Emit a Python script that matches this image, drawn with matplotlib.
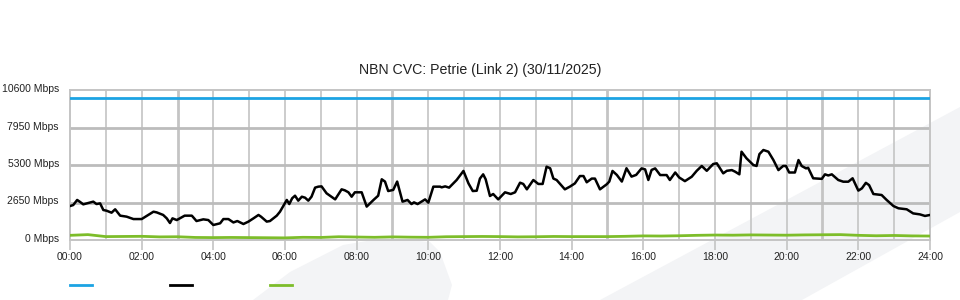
import numpy as np
import matplotlib.pyplot as plt
import matplotlib.transforms as mtransforms
from matplotlib.patches import Polygon
from matplotlib.lines import Line2D

plt.rcParams['font.family'] = ['Liberation Sans', 'DejaVu Sans']

title = 'NBN CVC: Petrie (Link 2) (30/11/2025)'
capacity = 10000  # Mbps

# black series (hours, Mbps)
hours = [0.0, 0.09, 0.2, 0.27, 0.37, 0.47, 0.65, 0.74, 0.84, 0.93, 1.02, 1.16, 1.26,
         1.4, 1.58, 1.77, 2.0, 2.14, 2.33, 2.42, 2.6, 2.7, 2.79, 2.86, 2.98, 3.2, 3.4,
         3.53, 3.72, 3.86, 4.0, 4.19, 4.28, 4.42, 4.56, 4.67, 4.84, 4.98, 5.12, 5.26,
         5.33, 5.49, 5.58, 5.77, 5.86, 6.05, 6.12, 6.2, 6.28, 6.37, 6.47, 6.56, 6.65,
         6.74, 6.84, 6.93, 7.02, 7.16, 7.4, 7.58, 7.67, 7.77, 7.86, 7.95, 8.14, 8.28,
         8.47, 8.6, 8.7, 8.79, 8.88, 9.02, 9.13, 9.28, 9.42, 9.53, 9.6, 9.7, 9.91,
         10.0, 10.14, 10.33, 10.37, 10.47, 10.58, 10.79, 10.98, 11.12, 11.24, 11.35,
         11.44, 11.53, 11.6, 11.72, 11.81, 11.95, 12.14, 12.3, 12.42, 12.56, 12.65,
         12.75, 12.93, 13.07, 13.19, 13.3, 13.4, 13.49, 13.58, 13.81, 13.95, 14.09,
         14.23, 14.33, 14.42, 14.56, 14.65, 14.79, 14.98, 15.05, 15.14, 15.26, 15.4,
         15.53, 15.67, 15.8, 15.95, 16.05, 16.14, 16.23, 16.33, 16.47, 16.65, 16.74,
         16.89, 17.0, 17.16, 17.35, 17.49, 17.63, 17.77, 17.95, 18.05, 18.23, 18.33,
         18.47, 18.56, 18.68, 18.74, 18.88, 19.07, 19.16, 19.24, 19.35, 19.49, 19.63,
         19.77, 19.9, 19.98, 20.07, 20.23, 20.33, 20.42, 20.54, 20.6, 20.74, 20.98,
         21.07, 21.16, 21.26, 21.44, 21.58, 21.72, 21.84, 22.0, 22.1, 22.21, 22.3,
         22.42, 22.65, 22.79, 22.98, 23.12, 23.35, 23.53, 23.72, 23.86, 24.0]
traffic = [2400, 2470, 2830, 2710, 2520, 2590, 2710, 2540, 2590, 2120, 2070, 1930, 2170,
           1720, 1650, 1480, 1480, 1700, 2000, 1950, 1770, 1530, 1200, 1530, 1410, 1720,
           1720, 1340, 1460, 1410, 1060, 1180, 1480, 1480, 1240, 1340, 1130, 1300, 1530,
           1770, 1650, 1300, 1340, 1720, 2000, 2830, 2540, 2950, 3130, 2780, 3060, 2990,
           2780, 3060, 3700, 3770, 3790, 3300, 2870, 3580, 3510, 3370, 3060, 3370, 3370,
           2360, 2830, 3130, 4290, 4130, 3460, 3540, 4130, 2710, 2830, 2540, 2660, 2540,
           2870, 2640, 3770, 3770, 3720, 3790, 3700, 4240, 4880, 4000, 3460, 3480, 4340,
           4640, 4290, 3110, 3250, 2870, 3370, 3250, 3370, 4050, 3960, 3580, 4240, 3960,
           3960, 5180, 5070, 4340, 4240, 3580, 3770, 4000, 4520, 4520, 4080, 4340, 4340,
           3580, 3940, 4130, 4880, 4600, 4130, 5070, 4480, 4600, 5060, 4990, 4240, 4950,
           5060, 4590, 4590, 4240, 4770, 4420, 4160, 4470, 4890, 5230, 4890, 5370, 5420,
           4710, 4890, 4940, 4830, 4640, 6240, 5770, 5300, 5230, 6070, 6360, 6240, 5650,
           4940, 5230, 5230, 4770, 4770, 5650, 5230, 5060, 5100, 4360, 4320, 4640, 4560,
           4640, 4240, 4120, 4120, 4360, 3490, 3650, 4040, 3880, 3250, 3180, 2830, 2400,
           2240, 2170, 1880, 1810, 1700, 1770]

# green series, every 30 minutes
green_hours = list(np.arange(0, 24.01, 0.5))
green = [330, 380, 240, 250, 260, 220, 230, 180, 170, 180, 170, 160, 150, 190, 180, 230,
         210, 190, 220, 200, 190, 230, 240, 250, 240, 220, 230, 250, 240, 240, 240, 260,
         290, 280, 300, 330, 350, 340, 360, 350, 340, 360, 370, 380, 330, 300, 320, 290,
         280]

yticks = [0, 2650, 5300, 7950, 10600]
ytick_labels = [f'{v} Mbps' for v in yticks]
xticks = list(range(0, 25, 2))
xtick_labels = [f'{h:02d}:00' for h in xticks]

blue_c = '#1ca3e3'
green_c = '#7dbd2a'
grid_c = '#c4c4c4'

fig = plt.figure(figsize=(9.6, 3.0), dpi=100)
fig.patch.set_facecolor('white')

# faint watermark shapes in the background (pixel coords -> figure fraction)
def px(points):
    return [(x / 960, 1 - y / 300) for x, y in points]

fig.patches.append(Polygon(px([(600, 300), (960, 107), (960, 212), (802, 300)]),
                           closed=True, transform=fig.transFigure, facecolor='#f3f4f6',
                           edgecolor='none', zorder=-5))
fig.patches.append(Polygon(px([(253, 300), (290, 272), (343, 245), (385, 238), (430, 242),
                               (440, 252), (452, 285), (448, 300)]),
                           closed=True, transform=fig.transFigure, facecolor='#f3f4f6',
                           edgecolor='none', zorder=-5))

ax = fig.add_axes([70 / 960, 0.2, 860 / 960, 0.5])
ax.set_facecolor('none')

ax.axhline(capacity, color=blue_c, lw=2, zorder=3)
ax.plot(hours, traffic, color='black', lw=1.8, zorder=4)
ax.plot(green_hours, green, color=green_c, lw=2, zorder=3)

ax.set_xlim(0, 24)
ax.set_ylim(0, 10600)

# grid
for h in range(1, 24):
    lw = 2.0 if h % 6 == 3 else 1.2
    ax.axvline(h, color=grid_c, lw=lw, zorder=1)
for v in yticks[1:-1]:
    ax.axhline(v, color='#bcbcbc', lw=2, zorder=1)

ax.set_yticks(yticks)
ax.set_yticklabels(ytick_labels)
ax.set_xticks(xticks)
ax.set_xticklabels(xtick_labels)
ax.tick_params(axis='y', length=0, pad=8, labelsize=7.5, labelcolor='#222222')
ax.tick_params(axis='x', length=7.2, width=1.2, color=grid_c, pad=1.5, labelsize=7.5,
               labelcolor='#222222')
# y labels sit a couple of pixels above their gridline
shift = mtransforms.ScaledTranslation(0, 2 / 100, fig.dpi_scale_trans)
for lab in ax.get_yticklabels():
    lab.set_transform(lab.get_transform() + shift)
for s in ax.spines.values():
    s.set_color(grid_c)
    s.set_linewidth(1.4)

fig.text(0.5, 1 - 70 / 300, title, ha='center', va='center', fontsize=10.2, color='#222222')

# legend swatches (no label text)
for x0, c in [(70, blue_c), (170, 'black'), (270, green_c)]:
    fig.lines.append(Line2D([x0 / 960, (x0 + 22) / 960], [1 - 285 / 300] * 2,
                            transform=fig.transFigure, color=c, lw=2))

fig.savefig('out.png', dpi=100)
